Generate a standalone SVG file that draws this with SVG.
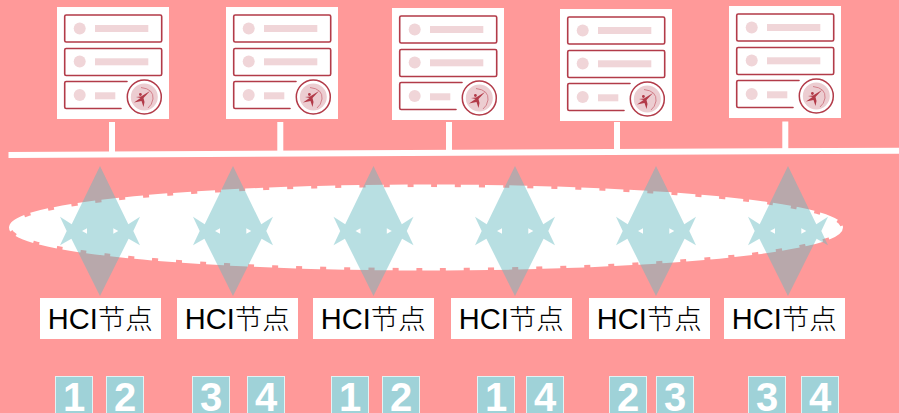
<svg xmlns="http://www.w3.org/2000/svg" width="899" height="413" viewBox="0 0 899 413">
<style>
.bg{fill:#ff9999}
.w{fill:#fff}
.row{fill:none;stroke:#b23a48;stroke-width:1.6;stroke-linejoin:round;stroke-linecap:round}
.soft{fill:#f0d5d8}
.lab{font-family:"Liberation Sans","Noto Sans CJK SC",sans-serif;font-size:29px;fill:#000;text-anchor:middle}
.cjk{font-weight:300;font-size:27.5px}
.num{font-family:"Liberation Sans",sans-serif;font-weight:bold;font-size:40px;fill:#fff;text-anchor:middle}
.bx{fill:#9fd2d8;stroke:#e3f3f4;stroke-width:1}
.ar{fill:#64b9c0;fill-opacity:.46;fill-rule:evenodd}
</style>
<defs>
<filter id="soft" x="-5%" y="-5%" width="110%" height="110%"><feGaussianBlur stdDeviation=".35"/></filter>
<g id="srv">
<rect class="w" width="112" height="112"/>
<g filter="url(#soft)">
<rect class="row" x="7.7" y="8" width="97" height="27" rx="1.5"/>
<rect class="row" x="7.7" y="41.5" width="97" height="27" rx="1.5"/>
<path class="row" d="M70 74.5H9.2Q7.7 74.5 7.7 76V100Q7.7 101.5 9.2 101.5H64"/>
<circle class="soft" cx="22.7" cy="21.5" r="6"/><rect class="soft" x="38" y="18" width="53.3" height="7"/>
<circle class="soft" cx="22.7" cy="54.5" r="6"/><rect class="soft" x="38" y="51.3" width="53.3" height="7"/>
<circle class="soft" cx="22.7" cy="88" r="6"/><rect class="soft" x="38" y="85.3" width="20.3" height="7"/>
<circle cx="87.3" cy="90" r="17" fill="#fff" stroke="#b23a48" stroke-width="1.5"/>
<circle cx="87.3" cy="90" r="13.5" fill="#eccdd1"/>
<path d="M84 80.5Q97 82 96 92Q95 98 91 101" fill="none" stroke="#c9616e" stroke-width=".7"/>
<circle cx="83.4" cy="87.5" r="1.4" fill="#b23a48"/>
<path d="M93 84L86.5 91L87.5 95L86.5 100L84.5 94L77 95.5L83.5 91L79 90L84 89.5Z" fill="#b23a48"/>
</g>
</g>
<path id="arw" class="ar" d="M0-65L28.3-6.7L40-14.3L33.3 0L40 14.3L28.6 7.7L0 65L-28.6 7.7L-40 14.3L-33.3 0L-40-14.3L-28.3-6.7ZM13.3-2.8V2.8L18.3 0ZM-13-2.8V2.8L-18 0Z"/>
</defs>
<rect class="bg" width="899" height="413"/>
<path id="cluster-ring" d="M11.5 227.5A414.5 40.5 0 0 1 840.5 227.5A414.5 40.5 0 0 1 11.5 227.5Z" fill="#fff" stroke="#fff" stroke-width="5" stroke-dasharray="18 6"/>
<g id="connectors">
<path class="w" d="M8.5 152L899 147.7V153.7L8.5 158Z"/>
<rect class="w" x="109" y="122" width="6" height="31"/>
<rect class="w" x="277.3" y="122" width="6" height="30"/>
<rect class="w" x="446" y="122" width="6" height="29"/>
<rect class="w" x="614" y="122" width="6" height="29"/>
<rect class="w" x="782.3" y="121.5" width="6" height="29"/>
<use href="#arw" x="100" y="231"/>
<use href="#arw" x="233" y="231"/>
<use href="#arw" x="373.5" y="231"/>
<use href="#arw" x="515" y="231"/>
<use href="#arw" x="656" y="231"/>
<use href="#arw" x="788" y="231"/>
</g>
<g id="server-1"><use href="#srv" x="57" y="7"/></g>
<g id="server-2"><use href="#srv" x="226" y="7"/></g>
<g id="server-3"><use href="#srv" x="392" y="8"/></g>
<g id="server-4"><use href="#srv" x="560" y="9"/></g>
<g id="server-5"><use href="#srv" x="729" y="6"/></g>
<g id="hci-1"><rect class="w" x="40" y="298" width="121" height="41"/><text class="lab" x="100.3" y="329">HCI<tspan class="cjk">节点</tspan></text></g>
<g id="hci-2"><rect class="w" x="177" y="298" width="121" height="41"/><text class="lab" x="237.3" y="329">HCI<tspan class="cjk">节点</tspan></text></g>
<g id="hci-3"><rect class="w" x="313" y="298" width="121" height="41"/><text class="lab" x="373.3" y="329">HCI<tspan class="cjk">节点</tspan></text></g>
<g id="hci-4"><rect class="w" x="451" y="298" width="121" height="41"/><text class="lab" x="511.3" y="329">HCI<tspan class="cjk">节点</tspan></text></g>
<g id="hci-5"><rect class="w" x="589" y="298" width="121" height="41"/><text class="lab" x="649.3" y="329">HCI<tspan class="cjk">节点</tspan></text></g>
<g id="hci-6"><rect class="w" x="724" y="298" width="121" height="41"/><text class="lab" x="784.3" y="329">HCI<tspan class="cjk">节点</tspan></text></g>
<g id="badge-1"><rect class="bx" x="55.5" y="376.5" width="37" height="40"/><text class="num" x="74" y="411">1</text></g>
<g id="badge-2"><rect class="bx" x="106.5" y="376.5" width="37" height="40"/><text class="num" x="125" y="411">2</text></g>
<g id="badge-3"><rect class="bx" x="192.5" y="376.5" width="37" height="40"/><text class="num" x="211" y="411">3</text></g>
<g id="badge-4"><rect class="bx" x="247.5" y="376.5" width="37" height="40"/><text class="num" x="266" y="411">4</text></g>
<g id="badge-5"><rect class="bx" x="331.5" y="376.5" width="37" height="40"/><text class="num" x="350" y="411">1</text></g>
<g id="badge-6"><rect class="bx" x="382.5" y="376.5" width="37" height="40"/><text class="num" x="401" y="411">2</text></g>
<g id="badge-7"><rect class="bx" x="477.5" y="376.5" width="37" height="40"/><text class="num" x="496" y="411">1</text></g>
<g id="badge-8"><rect class="bx" x="526.5" y="376.5" width="37" height="40"/><text class="num" x="545" y="411">4</text></g>
<g id="badge-9"><rect class="bx" x="609.5" y="376.5" width="37" height="40"/><text class="num" x="628" y="411">2</text></g>
<g id="badge-10"><rect class="bx" x="656.5" y="376.5" width="37" height="40"/><text class="num" x="675" y="411">3</text></g>
<g id="badge-11"><rect class="bx" x="748.5" y="376.5" width="37" height="40"/><text class="num" x="767" y="411">3</text></g>
<g id="badge-12"><rect class="bx" x="801.5" y="376.5" width="37" height="40"/><text class="num" x="820" y="411">4</text></g>
</svg>
